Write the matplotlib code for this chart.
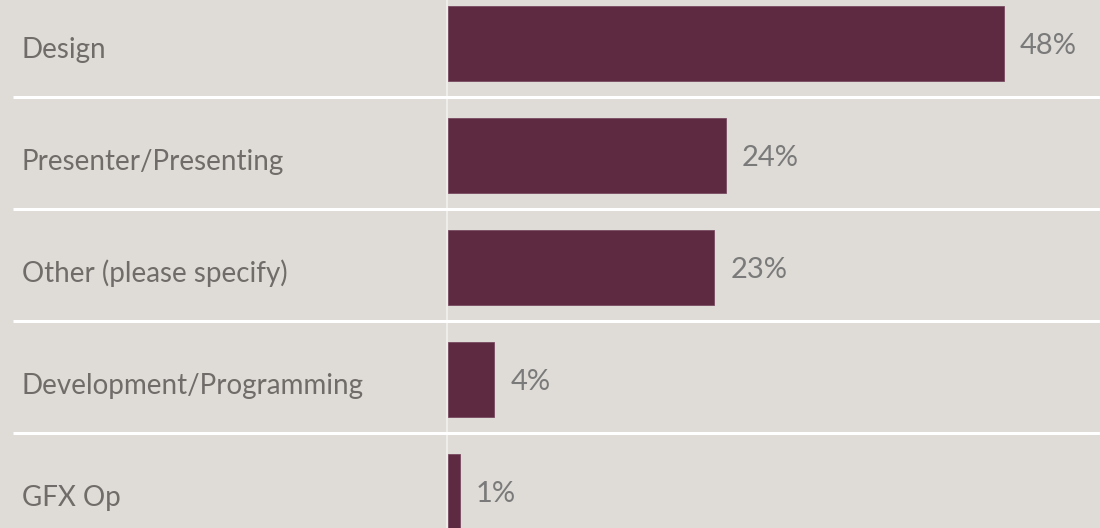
import matplotlib.pyplot as plt

# Survey responses: share of respondents per role
roles = ["Design", "Presenter/Presenting", "Other (please specify)",
         "Development/Programming", "GFX Op"]
shares = [48, 24, 23, 4, 1]

bg = "#dfdcd7"
bar_color = "#5e2a42"
text_color = "#6f6c69"
value_color = "#7a7a7a"

plt.rcParams['font.family'] = ['Lato', 'DejaVu Sans']

fig = plt.figure(figsize=(11, 5.28), dpi=100, facecolor=bg)
ax = fig.add_axes([0, 0, 1, 1])
ax.set_facecolor(bg)

px = 11.58  # pixels per percentage point
ax.set_xlim(-448 / px, 652 / px)
ax.set_ylim(4.326, -0.388)

rows = range(len(roles))
ax.barh(rows, shares, height=0.67, color=bar_color, edgecolor="#7a4a60",
        linewidth=0.6, zorder=3)

# white separators between rows and the baseline
for i in range(len(roles) - 1):
    ax.plot([-435 / px, 652 / px], [i + 0.478, i + 0.478], color="white",
            lw=2.2, zorder=2, solid_capstyle="butt")
ax.axvline(-0.1, color="#f2f1ee", lw=1.2, zorder=1)

for i, (role, v) in enumerate(zip(roles, shares)):
    ax.text(-426 / px, i + 0.055, role, ha="left", va="center",
            fontsize=20, color=text_color)
    ax.text(v + 16 / px, i + 0.02, f"{v}%", ha="left", va="center",
            fontsize=21, color=value_color)

ax.axis("off")
fig.savefig("out.png", dpi=100, facecolor=bg)
